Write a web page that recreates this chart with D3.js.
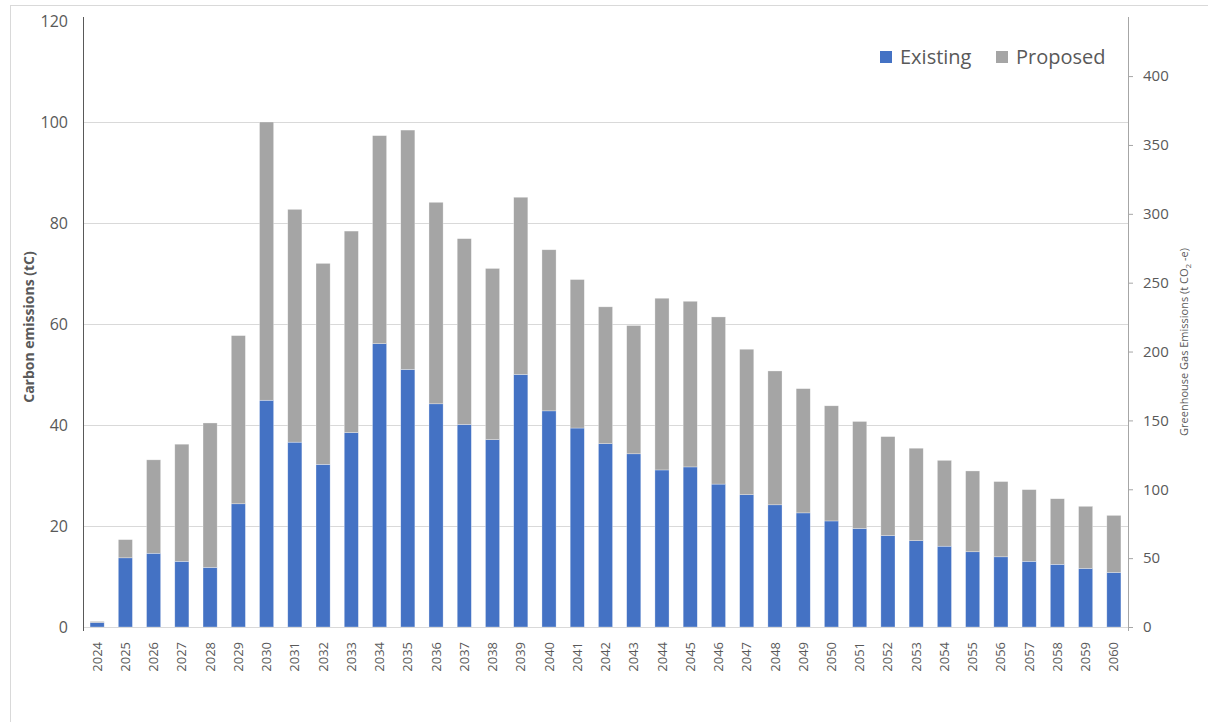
<!DOCTYPE html>
<html>
<head>
<meta charset="utf-8">
<script src="https://cdn.jsdelivr.net/npm/d3@7"></script>
<style>
  body { margin: 0; background: #fff; }
  text { font-family: "Open Sans", sans-serif; fill: #595959; }
</style>
</head>
<body>
<div id="chart"></div>
<script>
// data (tC)
const years = d3.range(2024, 2061).map(String);
const existing = [0.9, 13.7, 14.6, 13.0, 11.8, 24.4, 44.9, 36.6, 32.2, 38.5,
  56.1, 51.0, 44.2, 40.1, 37.1, 50.0, 42.8, 39.4, 36.3, 34.3,
  31.1, 31.7, 28.3, 26.2, 24.2, 22.6, 21.0, 19.5, 18.1, 17.1,
  16.0, 14.9, 13.9, 13.0, 12.4, 11.6, 10.8];
const totals = [1.1, 17.3, 33.1, 36.2, 40.4, 57.7, 100.0, 82.7, 72.0, 78.4,
  97.3, 98.4, 84.1, 76.9, 71.0, 85.1, 74.7, 68.8, 63.4, 59.7,
  65.1, 64.5, 61.4, 55.0, 50.7, 47.2, 43.8, 40.7, 37.7, 35.4,
  33.0, 30.9, 28.8, 27.2, 25.4, 23.9, 22.1];
const proposed = totals.map((t, i) => +(t - existing[i]).toFixed(1));
const leftTicks = [0, 20, 40, 60, 80, 100, 120];
const rightTicks = [0, 50, 100, 150, 200, 250, 300, 350, 400];
const seriesNames = ['Existing', 'Proposed'];
const colors = {Existing: '#4472C4', Proposed: '#A5A5A5'};

const W = 1208, H = 722;
const margin = {top: 21, right: 80, bottom: 95, left: 83};
const w = W - margin.left - margin.right;
const h = H - margin.top - margin.bottom;

const svg = d3.select('#chart').append('svg')
  .attr('width', W).attr('height', H);

// outer chart border
svg.append('rect')
  .attr('x', 10.5).attr('y', 5.5)
  .attr('width', W).attr('height', H)
  .attr('fill', 'none').attr('stroke', '#d9d9d9');

const g = svg.append('g').attr('transform', `translate(${margin.left},${margin.top})`);

const x = d3.scaleBand().domain(years).range([0, w]).paddingInner(0.5).paddingOuter(0.25);
const y = d3.scaleLinear().domain([0, 120]).range([h, 0]);
// CO2-e = C * 44/12
const yRight = d3.scaleLinear().domain([0, 120 * 44 / 12]).range([h, 0]);

// gridlines
g.append('g').selectAll('line')
  .data(leftTicks.filter(d => d > 0 && d < 120))
  .join('line')
    .attr('x1', 0).attr('x2', w)
    .attr('y1', d => Math.round(y(d)) + 0.5).attr('y2', d => Math.round(y(d)) + 0.5)
    .attr('stroke', '#d9d9d9');

// stacked bars
const rows = years.map((yr, i) => ({year: yr, Existing: existing[i], Proposed: proposed[i]}));
const stacked = d3.stack().keys(seriesNames)(rows);

g.append('g').selectAll('g')
  .data(stacked)
  .join('g')
    .attr('fill', d => colors[d.key])
  .selectAll('rect')
  .data(d => d)
  .join('rect')
    .attr('x', d => x(d.data.year))
    .attr('width', x.bandwidth())
    .attr('y', d => y(d[1]))
    .attr('height', d => y(d[0]) - y(d[1]))
    .attr('stroke', '#ffffff')
    .attr('stroke-opacity', 0.5)
    .attr('stroke-width', 0.6);

// bottom axis
const xAxis = g.append('g').attr('transform', `translate(0,${h})`)
  .call(d3.axisBottom(x).tickSize(0).tickPadding(0));
xAxis.select('.domain').attr('stroke', '#d9d9d9');
xAxis.selectAll('text')
  .attr('transform', 'rotate(-90)')
  .attr('x', -15).attr('y', 0).attr('dy', '0.35em')
  .style('text-anchor', 'end')
  .style('font-size', '13px')
  .attr('fill', '#595959');

// left axis
const yAxis = g.append('g')
  .call(d3.axisLeft(y).tickValues(leftTicks).tickSize(0).tickPadding(15));
yAxis.select('.domain').attr('stroke', '#595959').attr('d', `M0.5,-4V${h + 4}`);
yAxis.selectAll('text').style('font-size', '16px').attr('fill', '#595959');

// right axis
const yAxisR = g.append('g').attr('transform', `translate(${w},0)`)
  .call(d3.axisRight(yRight).tickValues(rightTicks).tickSize(5).tickPadding(10));
yAxisR.select('.domain').attr('stroke', '#a6a6a6').attr('d', `M0.5,-4V${h + 4}`);
yAxisR.selectAll('line').attr('stroke', '#a6a6a6');
yAxisR.selectAll('text').style('font-size', '15px').attr('fill', '#595959');

// axis titles
svg.append('text')
  .attr('transform', `translate(34,${margin.top + h / 2 + 3}) rotate(-90)`)
  .attr('text-anchor', 'middle')
  .style('font-size', '14px').style('font-weight', 'bold')
  .text('Carbon emissions (tC)');

const rt = svg.append('text')
  .attr('transform', `translate(1188,${margin.top + h / 2 + 18}) rotate(-90)`)
  .attr('text-anchor', 'middle')
  .style('font-size', '11px');
rt.append('tspan').text('Greenhouse Gas Emissions (t CO');
rt.append('tspan').text('2').attr('dy', 3).style('font-size', '8px');
rt.append('tspan').text(' -e)').attr('dy', -3);

// legend
const legend = svg.append('g').attr('transform', 'translate(880,51)');
const legX = [0, 116];
seriesNames.forEach((name, i) => {
  const item = legend.append('g').attr('transform', `translate(${legX[i]},0)`);
  item.append('rect').attr('width', 12).attr('height', 12).attr('fill', colors[name]);
  item.append('text').attr('x', 20).attr('y', 6).attr('dy', '0.35em')
    .style('font-size', '20px').text(name);
});
</script>
</body>
</html>
